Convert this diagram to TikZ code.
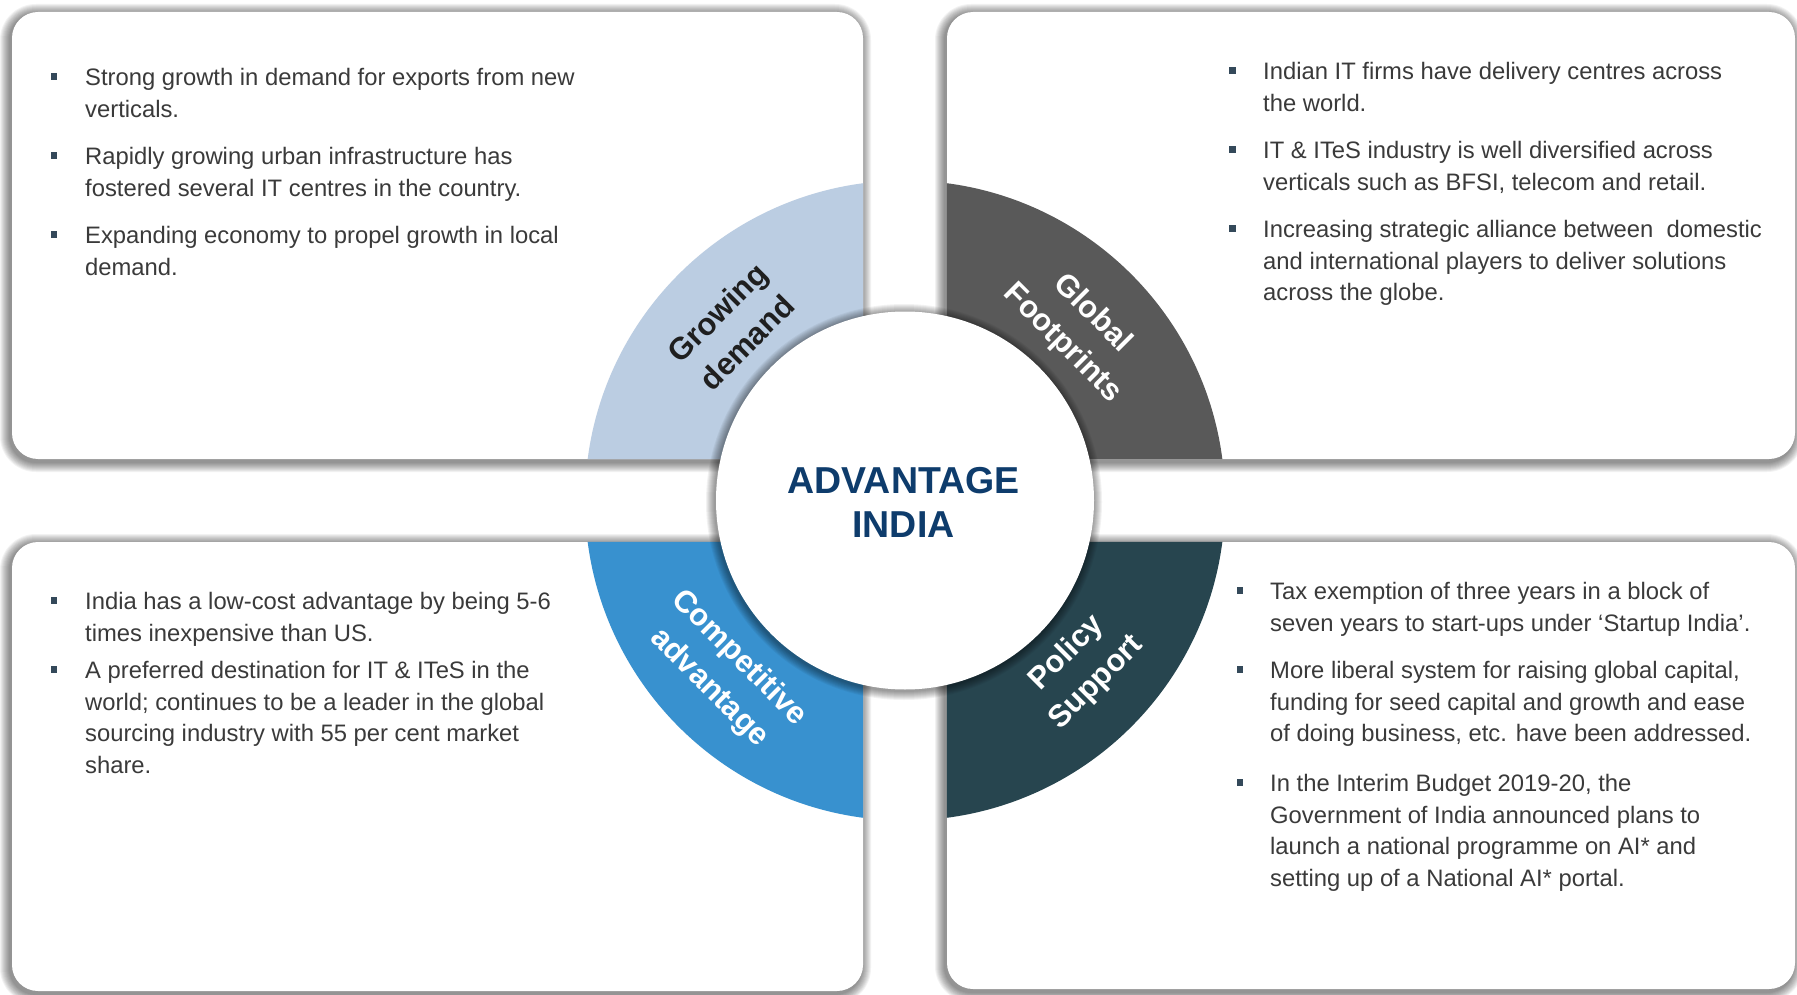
\documentclass[tikz,border=0pt]{standalone}
\usepackage{fontspec}
\setmainfont{Liberation Sans}
\usetikzlibrary{calc}
\definecolor{gdc}{HTML}{BBCDE2}
\definecolor{gfc}{HTML}{595959}
\definecolor{cac}{HTML}{3891CF}
\definecolor{psc}{HTML}{27454F}
\definecolor{advc}{HTML}{0E3C6C}
\definecolor{txtc}{HTML}{3A3A3A}
\definecolor{bulc}{HTML}{34495A}
\definecolor{gdtxt}{HTML}{1F1F1F}
\newcommand\boxshadow[4]{%
  \foreach \e in {1,...,10}{%
    \pgfmathsetmacro\rr{26+\e}%
    \fill[black,opacity=0.05,rounded corners=\rr pt] ({#1-\e-2},{#2-\e+2}) rectangle ({#3+\e-2},{#4+\e+3});
  }}
\tikzset{
  panel/.style={rectangle, rounded corners=26pt, fill=white, inner sep=0pt},
  bultxt/.style={anchor=north west, inner sep=0pt, align=left, text=txtc,
     font=\fontsize{23.8pt}{31.7pt}\selectfont},
  bul/.style={rectangle, fill=bulc, minimum width=6.5pt, minimum height=7pt, inner sep=0pt},
  seglabel/.style={align=center, inner sep=0pt,
     font=\bfseries\fontsize{31pt}{42pt}\selectfont},
}
\begin{document}
\begin{tikzpicture}[x=1pt,y=-1pt]
\useasboundingbox (0,0) rectangle (1797,995);
\fill[white] (0,0) rectangle (1797,995);
\coordinate (C) at (905,500.5);
% shadows of panels
\boxshadow{12}{12}{863}{459}
\boxshadow{947}{12}{1795}{459}
\boxshadow{12}{542}{863}{991}
\boxshadow{947}{542}{1795}{989}
% panels
\node[panel, minimum width=851pt, minimum height=447pt] (tl) at (437.5,235.5) {};
\node[panel, minimum width=848pt, minimum height=447pt] (tr) at (1371,235.5) {};
\node[panel, minimum width=851pt, minimum height=449pt] (bl) at (437.5,766.5) {};
\node[panel, minimum width=848pt, minimum height=447pt] (br) at (1371,765.5) {};
% ring quadrants
\begin{scope}
\clip[rounded corners=26pt] (tl.south west) rectangle (tl.north east);
\fill[gdc] (C) circle[radius=320pt];
\end{scope}
\begin{scope}
\clip[rounded corners=26pt] (tr.south west) rectangle (tr.north east);
\fill[gfc] (C) circle[radius=320pt];
\end{scope}
\begin{scope}
\clip[rounded corners=26pt] (bl.south west) rectangle (bl.north east);
\fill[cac] (C) circle[radius=320pt];
\end{scope}
\begin{scope}
\clip[rounded corners=26pt] (br.south west) rectangle (br.north east);
\fill[psc] (C) circle[radius=320pt];
\end{scope}
% center circle shadow
\foreach \e in {1,...,9}{%
  \pgfmathsetmacro\rr{189+\e}%
  \fill[black,opacity=0.05] (904,502) circle[radius=\rr pt];
}
\node[circle, fill=white, minimum size=378pt, inner sep=0pt] (ctr) at (C) {};
\node[anchor=north, inner sep=0pt, align=center, text=advc,
      font=\bfseries\fontsize{37.5pt}{44pt}\selectfont] (adv) at (903.5,467.5) {ADVANTAGE\\INDIA};
% segment labels
\node[seglabel, text=gdtxt, rotate=45] (lgd) at (732,327.5) {Growing\\demand};
\node[seglabel, text=white, rotate=-45] (lgf) at (1077.5,328.5) {Global\\Footprints};
\node[seglabel, text=white, rotate=-45] (lca) at (724,673) {Competitive\\advantage};
\node[seglabel, text=white, rotate=45] (lps) at (1081.7,668) {Policy\\Support};
% top-left bullets
\node[bul] (tlb1) at (54,76.7) {};
\node[bultxt] (tlt1) at (85,68) {Strong growth in demand for exports from new\\verticals.};
\node[bul] (tlb2) at (54,155.7) {};
\node[bultxt] (tlt2) at (85,147) {Rapidly growing urban infrastructure has\\fostered several IT centres in the country.};
\node[bul] (tlb3) at (54,234.7) {};
\node[bultxt] (tlt3) at (85,226) {Expanding economy to propel growth in local\\demand.};
% top-right bullets
\node[bul] (trb1) at (1232.5,70.7) {};
\node[bultxt] (trt1) at (1263,62) {Indian IT firms have delivery centres across\\the world.};
\node[bul] (trb2) at (1232.5,149.7) {};
\node[bultxt] (trt2) at (1263,141) {IT \& ITeS industry is well diversified across\\verticals such as BFSI, telecom and retail.};
\node[bul] (trb3) at (1232.5,228.7) {};
\node[bultxt] (trt3) at (1263,220) {Increasing strategic alliance between~ domestic\\and international players to deliver solutions\\across the globe.};
% bottom-left bullets
\node[bul] (blb1) at (54,600.7) {};
\node[bultxt] (blt1) at (85,592) {India has a low-cost advantage by being 5-6\\times inexpensive than US.};
\node[bul] (blb2) at (54,669.7) {};
\node[bultxt] (blt2) at (85,661) {A preferred destination for IT \& ITeS in the\\world; continues to be a leader in the global\\sourcing industry with 55 per cent market\\share.};
% bottom-right bullets
\node[bul] (brb1) at (1240,590.7) {};
\node[bultxt] (brt1) at (1270,582) {Tax exemption of three years in a block of\\seven years to start-ups under ‘Startup India’.};
\node[bul] (brb2) at (1240,669.7) {};
\node[bultxt] (brt2) at (1270,661) {More liberal system for raising global capital,\\funding for seed capital and growth and ease\\of doing business, etc. have been addressed.};
\node[bul] (brb3) at (1240,782.7) {};
\node[bultxt] (brt3) at (1270,774) {In the Interim Budget 2019-20, the\\Government of India announced plans to\\launch a national programme on AI* and\\setting up of a National AI* portal.};
\end{tikzpicture}
\end{document}
